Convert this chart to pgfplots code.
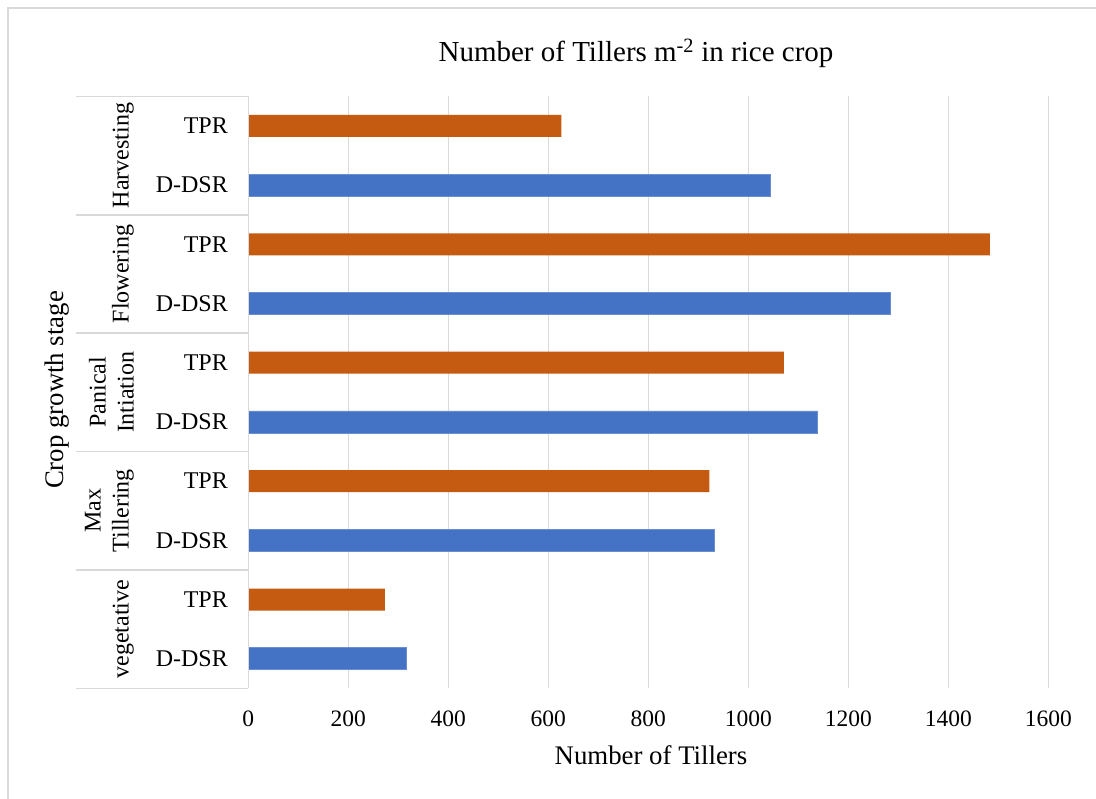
\documentclass[border=0pt]{standalone}
\usepackage{pgfplots}
\pgfplotsset{compat=1.18}
\usepackage{fontspec}
\setmainfont{Liberation Serif}
\definecolor{cblue}{HTML}{4472C4}
\definecolor{corange}{HTML}{C55A11}
\definecolor{cgrid}{HTML}{D9D9D9}
\begin{document}
\begin{tikzpicture}[x=1pt,y=1pt]
\useasboundingbox (0,0) rectangle (1096,799);
\draw[cgrid,line width=1.5pt] (8,-5) -- (8,791) -- (1100,791);
\begin{axis}[
  at={(248.3pt,110.7pt)}, anchor=south west,
  scale only axis, width=800pt, height=591.9pt,
  xmin=0, xmax=1600, ymin=-0.5, ymax=9.5,
  xtick={0,200,...,1600},
  ytick={0,...,9},
  yticklabels={D-DSR,TPR,D-DSR,TPR,D-DSR,TPR,D-DSR,TPR,D-DSR,TPR},
  xmajorgrids, major grid style={cgrid,line width=1.5pt},
  axis line style={draw=none},
  major tick length=0pt,
  tick label style={font=\fontsize{23.5}{28}\selectfont, inner sep=0pt},
  yticklabel style={anchor=east, xshift=-20.3pt, font=\fontsize{24}{28}\selectfont},
  xticklabel style={anchor=base, yshift=-38.7pt},
  /pgf/number format/assume math mode=true,
  /pgf/number format/1000 sep={},
  xbar, bar width=22pt, bar shift=0pt,
  clip=false,
]
\addplot[fill=cblue, draw=cblue!80!white] coordinates {(315,0) (931,2) (1138,4) (1284,6) (1043,8)};
\addplot[fill=corange, draw=none] coordinates {(273,1) (922,3) (1071,5) (1483,7) (626,9)};
\draw[cgrid,line width=1.5pt] (axis cs:0,-0.5) -- (axis cs:0,9.5);
\draw[cgrid,line width=1.5pt] ([xshift=-172.3pt]axis cs:0,-0.5) -- (axis cs:0,-0.5);
\draw[cgrid,line width=1.5pt] ([xshift=-172.3pt]axis cs:0,1.5) -- (axis cs:0,1.5);
\draw[cgrid,line width=1.5pt] ([xshift=-172.3pt]axis cs:0,3.5) -- (axis cs:0,3.5);
\draw[cgrid,line width=1.5pt] ([xshift=-172.3pt]axis cs:0,5.5) -- (axis cs:0,5.5);
\draw[cgrid,line width=1.5pt] ([xshift=-172.3pt]axis cs:0,7.5) -- (axis cs:0,7.5);
\draw[cgrid,line width=1.5pt] ([xshift=-172.3pt]axis cs:0,9.5) -- (axis cs:0,9.5);
\node[rotate=90, anchor=south, inner sep=0pt, align=center, font=\fontsize{24}{28}\selectfont] at ([xshift=-114.3pt]axis cs:0,8.5) {Harvesting};
\node[rotate=90, anchor=south, inner sep=0pt, align=center, font=\fontsize{24}{28}\selectfont] at ([xshift=-114.3pt]axis cs:0,6.5) {Flowering};
\node[rotate=90, anchor=south, inner sep=0pt, align=center, font=\fontsize{24}{28}\selectfont] at ([xshift=-114.3pt]axis cs:0,4.5) {Panical\\Intiation};
\node[rotate=90, anchor=south, inner sep=0pt, align=center, font=\fontsize{24}{28}\selectfont] at ([xshift=-114.3pt]axis cs:0,2.5) {Max\\Tillering};
\node[rotate=90, anchor=south, inner sep=0pt, align=center, font=\fontsize{24}{28}\selectfont] at ([xshift=-114.3pt]axis cs:0,0.5) {vegetative};
\end{axis}
\node[anchor=base, font=\fontsize{29}{33}\selectfont] at (636,737) {Number of Tillers m\textsuperscript{-2} in rice crop};
\node[anchor=base, font=\fontsize{26.8}{30}\selectfont] at (651,34) {Number of Tillers};
\node[rotate=90, anchor=center, font=\fontsize{26.8}{30}\selectfont, inner sep=0pt] at (57,409) {Crop growth stage};
\end{tikzpicture}
\end{document}
